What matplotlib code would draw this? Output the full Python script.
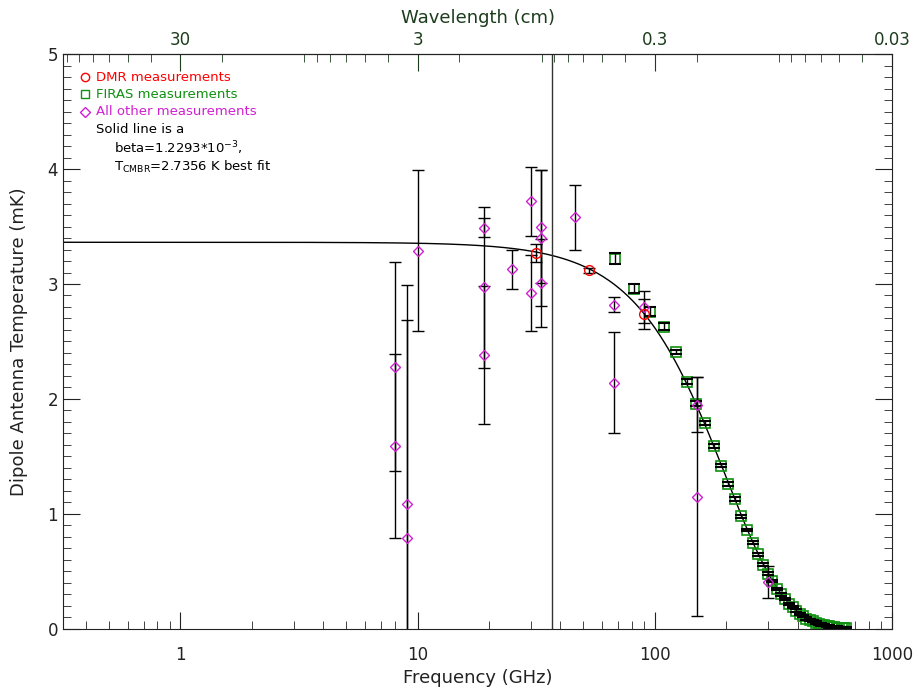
import matplotlib
matplotlib.use('Agg')
import matplotlib.pyplot as plt
import numpy as np

# DMR measurements (GHz, mK)
dmr_freq = [31.5, 53.0, 90.4]
dmr_temp = [3.27, 3.12, 2.74]
dmr_err = [0.08, 0.02, 0.13]

# FIRAS measurements
firas_freq = [68.1, 81.7, 95.3, 108.9, 122.5, 136.2, 149.8, 163.4, 177.0, 190.7,
              204.3, 217.9, 231.5, 245.2, 258.8, 272.4, 286.0, 299.7, 313.3, 326.9,
              340.5, 354.1, 367.7, 381.4, 395.0, 408.6, 422.2, 435.8, 449.4, 463.0,
              476.6, 490.3, 503.9, 517.5, 531.1, 544.7, 558.3, 571.9, 585.6, 599.2,
              612.8, 626.4, 640.0]
firas_temp = [3.22, 2.96, 2.76, 2.63, 2.41, 2.15, 1.96, 1.79, 1.59, 1.42,
              1.26, 1.13, 0.98, 0.86, 0.75, 0.65, 0.56, 0.48, 0.42, 0.35,
              0.30, 0.26, 0.22, 0.19, 0.16, 0.13, 0.11, 0.09, 0.08, 0.07,
              0.055, 0.045, 0.038, 0.032, 0.026, 0.022, 0.018, 0.015, 0.012, 0.010,
              0.008, 0.007, 0.006]
firas_err = [0.05, 0.04, 0.04, 0.03, 0.02, 0.02, 0.02, 0.02, 0.015, 0.015,
             0.015, 0.015, 0.012, 0.012, 0.012, 0.012, 0.012, 0.012, 0.01, 0.01,
             0.01, 0.01, 0.01, 0.01, 0.01, 0.01, 0.01, 0.01, 0.01, 0.01,
             0.01, 0.01, 0.01, 0.01, 0.01, 0.01, 0.01, 0.01, 0.01, 0.01,
             0.01, 0.01, 0.01]

# all other measurements
other_freq = [8.05, 8.05, 9.04, 9.04, 10.07, 19.0, 19.0, 19.0, 24.9, 30.1, 30.1,
              33.1, 33.1, 33.1, 46.3, 67.3, 67.3, 90.4, 150.4, 150.4, 300.7]
other_temp = [2.28, 1.59, 1.09, 0.79, 3.29, 3.49, 2.97, 2.38, 3.13, 3.72, 2.92,
              3.50, 3.40, 3.01, 3.58, 2.82, 2.14, 2.80, 1.95, 1.15, 0.41]
other_err = [0.91, 0.80, 1.90, 1.90, 0.70, 0.08, 0.70, 0.60, 0.17, 0.30, 0.33,
             0.49, 0.59, 0.38, 0.28, 0.065, 0.44, 0.14, 0.24, 1.04, 0.14]

# best fit parameters
beta = 1.2293e-3
t_cmbr = 2.7356
h_over_k = 0.047992  # K / GHz
vline_freq = 37.0


def dipole(nu):
    """Дипольная антенная температура в мК"""
    x = h_over_k * nu / t_cmbr
    return 1e3 * beta * t_cmbr * x ** 2 * np.exp(x) / np.expm1(x) ** 2


fig = plt.figure(figsize=(9.2, 6.97), dpi=100)
ax = fig.add_axes([0.0685, 0.0976, 0.9011, 0.8249])
ax.set_xscale('log')
ax.set_xlim(0.32, 1000)
ax.set_ylim(0, 5)

nu = np.logspace(np.log10(0.32), np.log10(660), 400)
ax.plot(nu, dipole(nu), color='black', lw=1)
ax.axvline(vline_freq, color='#333333', lw=1)

ax.plot(firas_freq, firas_temp, 's', mfc='none', mec='#109010', ms=7, mew=1.2)
ax.errorbar(firas_freq, firas_temp, yerr=firas_err, fmt='none', ecolor='black',
            elinewidth=1, capsize=4, capthick=1.5)
ax.errorbar(other_freq, other_temp, yerr=other_err, fmt='D', mfc='none', mec='#d020d0',
            ms=5.5, mew=1, ecolor='black', elinewidth=1, capsize=4, capthick=1.2)
ax.errorbar(dmr_freq, dmr_temp, yerr=dmr_err, fmt='o', mfc='none', mec='red',
            ms=7, mew=1, ecolor='black', elinewidth=1, capsize=4, capthick=1.2)

ax.tick_params(which='both', direction='in', top=False, right=True, labelsize=12,
               colors='#222222')
ax.tick_params(which='major', length=12)
ax.tick_params(which='minor', length=6)
ax.yaxis.set_major_locator(plt.MultipleLocator(1))
ax.yaxis.set_minor_locator(plt.MultipleLocator(0.1))
ax.xaxis.set_major_formatter(plt.FuncFormatter(lambda v, p: '%g' % v))
ax.tick_params(axis='x', pad=12)
ax.set_xlabel('Frequency (GHz)', fontsize=13, color='#222222')
ax.set_ylabel('Dipole Antenna Temperature (mK)', fontsize=13, color='#222222',
              labelpad=14)

top = ax.secondary_xaxis('top', functions=(lambda f: 30.0 / f, lambda w: 30.0 / w))
top.set_xticks([30, 3, 0.3, 0.03])
top.xaxis.set_major_formatter(plt.FuncFormatter(lambda v, p: '%g' % v))
top.tick_params(which='both', direction='in', labelsize=12, colors='#1c3c1c')
top.tick_params(which='major', length=12)
top.tick_params(which='minor', length=6)
top.set_xlabel('Wavelength (cm)', fontsize=13, color='#1c3c1c', labelpad=6)

for s in ax.spines.values():
    s.set_color('#222222')

# легенда вручную
lx, ltx = 0.027, 0.040
fs = 9.5
ax.plot(lx, 0.960, 'o', mfc='none', mec='red', ms=6, transform=ax.transAxes)
ax.text(ltx, 0.960, 'DMR measurements', color='red', fontsize=fs, va='center',
        transform=ax.transAxes)
ax.plot(lx, 0.930, 's', mfc='none', mec='#109010', ms=6, transform=ax.transAxes)
ax.text(ltx, 0.930, 'FIRAS measurements', color='#109010', fontsize=fs, va='center',
        transform=ax.transAxes)
ax.plot(lx, 0.900, 'D', mfc='none', mec='#d020d0', ms=5, transform=ax.transAxes)
ax.text(ltx, 0.900, 'All other measurements', color='#d020d0', fontsize=fs, va='center',
        transform=ax.transAxes)
ax.text(0.040, 0.869, 'Solid line is a', fontsize=fs, va='center', transform=ax.transAxes)
ax.text(0.062, 0.836, r'beta=1.2293*10$^{-3}$,', fontsize=fs, va='center',
        transform=ax.transAxes)
ax.text(0.062, 0.804, r'T$_{\mathregular{CMBR}}$=2.7356 K best fit', fontsize=fs,
        va='center', transform=ax.transAxes)

fig.savefig('out.png', dpi=100)
